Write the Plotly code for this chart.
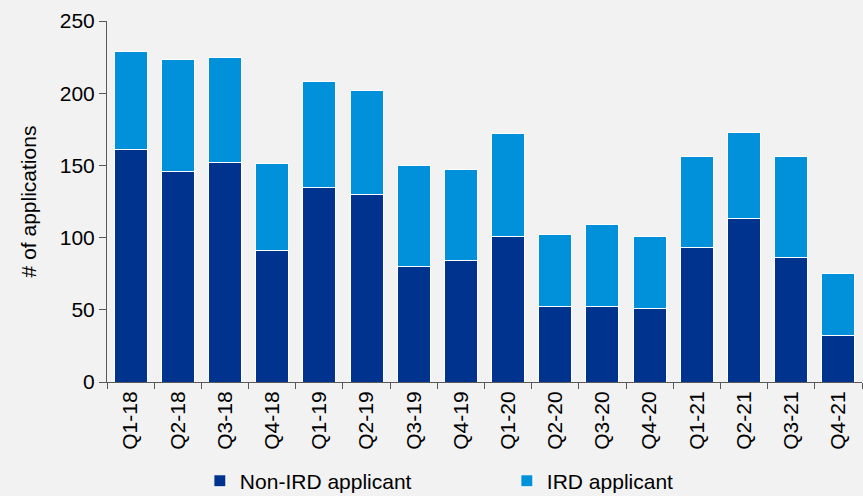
import plotly.graph_objects as go

quarters = ["Q1-18", "Q2-18", "Q3-18", "Q4-18", "Q1-19", "Q2-19", "Q3-19", "Q4-19",
            "Q1-20", "Q2-20", "Q3-20", "Q4-20", "Q1-21", "Q2-21", "Q3-21", "Q4-21"]
non_ird = [161, 146, 152, 91, 135, 130, 80, 84, 101, 52, 52, 51, 93, 113, 86, 32]
ird = [68, 77, 73, 60, 73, 72, 70, 63, 71, 50, 57, 50, 63, 60, 70, 43]

FONT = "Liberation Sans, Arial, sans-serif"

fig = go.Figure()
fig.add_trace(go.Bar(x=quarters, y=non_ird, name="Non-IRD applicant",
                     marker=dict(color="#00338D", line=dict(color="white", width=1))))
fig.add_trace(go.Bar(x=quarters, y=ird, name="IRD applicant",
                     marker=dict(color="#0091DA", line=dict(color="white", width=1))))

fig.update_layout(
    barmode="stack",
    bargap=0.3,
    width=863, height=496,
    paper_bgcolor="#f2f2f2", plot_bgcolor="#f2f2f2",
    margin=dict(l=107, r=1, t=21, b=114, autoexpand=False),
    font=dict(family=FONT, size=21, color="#000000"),
    legend=dict(orientation="h", x=0.123, xanchor="left",
                yref="container", y=0.03, yanchor="middle",
                entrywidth=262, font=dict(size=21), bgcolor="rgba(0,0,0,0)",
                itemwidth=30, traceorder="normal"),
    xaxis=dict(showline=True, linecolor="#595959", linewidth=1, automargin=False,
               ticks="outside", tickson="boundaries", ticklen=6, tickcolor="#595959",
               tickangle=-90, showgrid=False, fixedrange=True),
    yaxis=dict(range=[0, 250], tickvals=[0, 50, 100, 150, 200, 250], automargin=False,
               showline=True, linecolor="#595959", linewidth=1,
               ticks="outside", ticklen=7, tickcolor="#595959",
               showgrid=False, zeroline=False, fixedrange=True,
               title=dict(text="# of applications", font=dict(size=21), standoff=17)),
)

fig.write_html("out.html", config={"displayModeBar": False},
               post_script="document.body.style.margin='0px';document.body.style.background='#f2f2f2';")
